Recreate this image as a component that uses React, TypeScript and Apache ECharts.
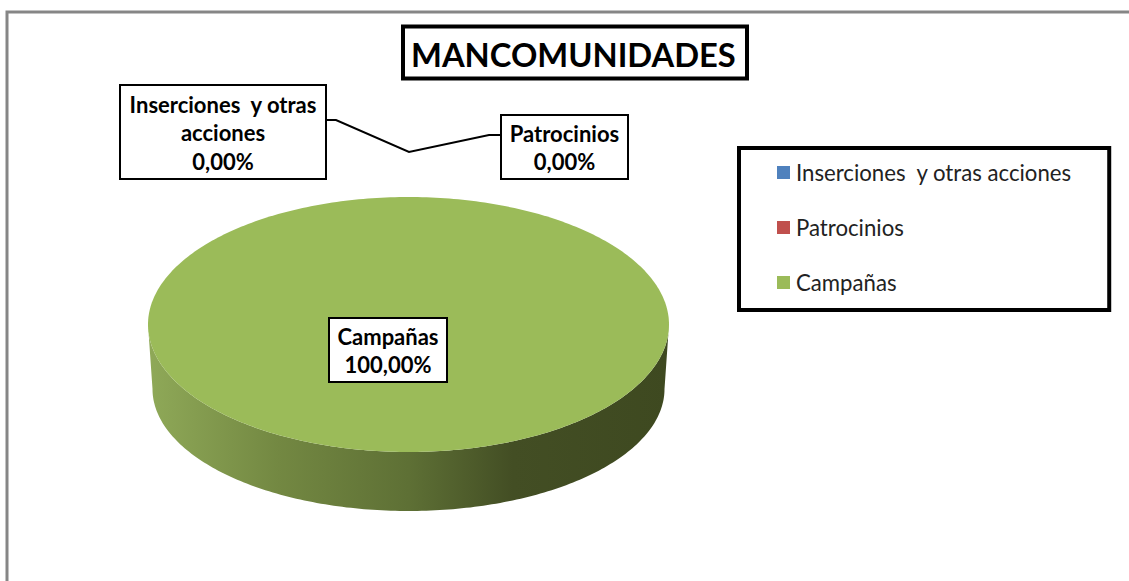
import React, { useEffect, useRef } from "react";
import * as echarts from "echarts";

const titleText = "MANCOMUNIDADES";
const categories = ["Inserciones  y otras acciones", "Patrocinios", "Campañas"];
const values = [0, 0, 100];
const colors = ["#4F81BD", "#C0504D", "#9BBB59"];
const labelLines = [["Inserciones  y otras", "acciones"], ["Patrocinios"], ["Campañas"]];

const FONT = "Lato";
const total = values.reduce((a, b) => a + b, 0);
const pct = (v: number) => ((v / total) * 100).toFixed(2).replace(".", ",") + "%";

const TOP = { cx: 408.5, cy: 324.5, rx: 260.5, ry: 127.5 };
const BOTTOM = { cx: 408.5, cy: 389, rx: 256, ry: 122 };

const pt = (e: typeof TOP, deg: number) => {
  const a = (deg * Math.PI) / 180;
  return [e.cx + e.rx * Math.cos(a), e.cy + e.ry * Math.sin(a)];
};

const arc = (e: typeof TOP, from: number, to: number) => {
  const out: number[][] = [];
  const n = Math.max(2, Math.ceil(Math.abs(to - from)));
  for (let i = 0; i <= n; i++) out.push(pt(e, from + ((to - from) * i) / n));
  return out;
};

const sideFill = {
  type: "linear",
  x: 0,
  y: 0,
  x2: 1,
  y2: 0,
  colorStops: [
    { offset: 0, color: "#8FA958" },
    { offset: 0.25, color: "#738842" },
    { offset: 0.5, color: "#5E7035" },
    { offset: 0.7, color: "#434E24" },
    { offset: 1, color: "#3E4920" },
  ],
};

const makeRender = (index: number) => (_params: any, api: any) => {
  const value = api.value(0);
  if (!value) return null;
  const before = values.slice(0, index).reduce((a, b) => a + b, 0);
  const start = (before / total) * 360;
  const end = ((before + value) / total) * 360;
  const children: any[] = [];
  const frontStart = Math.max(start, 0);
  const frontEnd = Math.min(end, 180);
  if (frontEnd > frontStart) {
    children.push({
      type: "polygon",
      shape: { points: [...arc(TOP, frontStart, frontEnd), ...arc(BOTTOM, frontEnd, frontStart)] },
      style: { fill: sideFill },
    });
  }
  const full = end - start >= 360;
  children.push({
    type: "polygon",
    shape: { points: full ? arc(TOP, start, end) : [[TOP.cx, TOP.cy], ...arc(TOP, start, end)] },
    style: { fill: colors[index] },
  });
  return { type: "group", children };
};

const labelBoxes = [
  { x: 120, y: 85, w: 206, h: 94 },
  { x: 501, y: 115, w: 127, h: 64 },
  { x: 329, y: 318, w: 118, h: 64 },
];

const labelGraphics = () => {
  const out: any[] = [];
  categories.forEach((_c, i) => {
    const b = labelBoxes[i];
    out.push({
      type: "rect",
      z: 20,
      shape: { x: b.x, y: b.y, width: b.w, height: b.h },
      style: { fill: "#fff", stroke: "#000", lineWidth: 2 },
    });
    out.push({
      type: "text",
      z: 21,
      x: b.x + b.w / 2,
      y: b.y + b.h / 2 + 0.5,
      style: {
        text: [...labelLines[i], pct(values[i])].join("\n"),
        align: "center",
        verticalAlign: "middle",
        fontFamily: FONT,
        fontWeight: "bold",
        fontSize: 22,
        lineHeight: 28.5,
        fill: "#000",
      },
    });
  });
  return out;
};

export default function App() {
  const ref = useRef<HTMLDivElement>(null);
  useEffect(() => {
    document.body.style.margin = "0";
    const chart = echarts.init(ref.current!, undefined, { renderer: "svg" });
    chart.setOption({
      animation: false,
      backgroundColor: "#fff",
      title: {
        text: titleText,
        left: 403,
        top: 26,
        padding: [11.5, 11, 8.5, 8],
        borderColor: "#000",
        borderWidth: 4,
        backgroundColor: "#fff",
        textStyle: { fontFamily: FONT, fontWeight: "bold", fontSize: 32.7, color: "#000" },
      },
      legend: {
        orient: "vertical",
        left: 739,
        top: 148,
        data: categories,
        selectedMode: false,
        icon: "rect",
        itemWidth: 13,
        itemHeight: 13,
        itemGap: 33,
        padding: [13.5, 37, 16.5, 38],
        borderColor: "#000",
        borderWidth: 4,
        textStyle: { fontFamily: FONT, fontSize: 22.2, color: "#222", padding: [0, 0, 0, 1], lineHeight: 22 },
      },
      graphic: {
        elements: [
          {
            type: "polyline",
            z: 5,
            shape: { points: [[7, 581], [7, 12], [1129, 12]] },
            style: { stroke: "#868686", lineWidth: 3, fill: "none" },
          },
          {
            type: "polyline",
            z: 5,
            shape: { points: [[326, 120], [336, 120], [409, 152], [489, 135], [501, 135]] },
            style: { stroke: "#000", lineWidth: 2, fill: "none" },
          },
          ...labelGraphics(),
        ],
      },
      series: categories.map((name, i) => ({
        type: "custom",
        name,
        coordinateSystem: "none",
        itemStyle: { color: colors[i] },
        data: [values[i]],
        renderItem: makeRender(i),
      })),
    });
    return () => chart.dispose();
  }, []);
  return <div ref={ref} style={{ position: "absolute", left: 0, top: 0, width: 1129, height: 581 }} />;
}
